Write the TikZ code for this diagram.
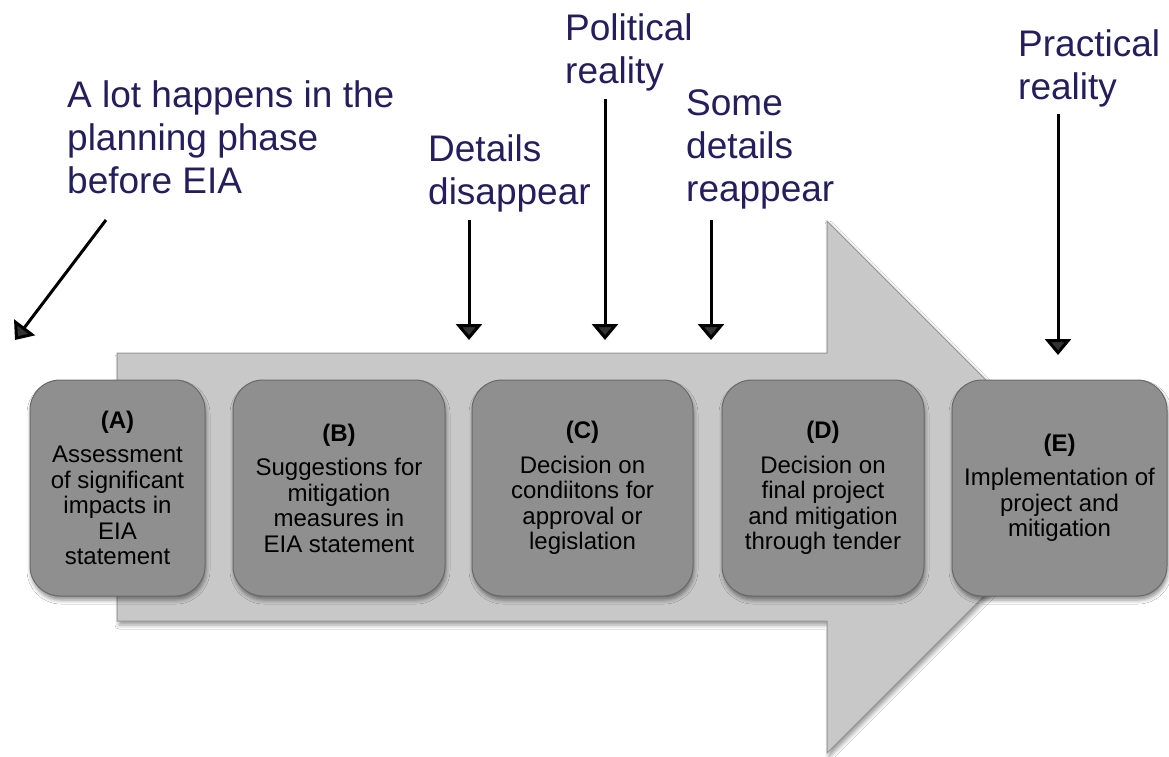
\documentclass[tikz,border=0pt]{standalone}
\usepackage{fontspec}
\setmainfont{Liberation Sans}
\usetikzlibrary{arrows.meta,shadows.blur}
\definecolor{navy}{RGB}{36,31,92}
\definecolor{boxfill}{RGB}{143,143,143}
\definecolor{boxline}{RGB}{105,105,105}
\definecolor{arrfill}{RGB}{200,200,200}
\definecolor{arrline}{RGB}{150,150,150}
\begin{document}
\begin{tikzpicture}[x=1pt,y=-1pt,
  stagebox/.style={draw=boxline, line width=1pt, fill=boxfill, rounded corners=30pt,
    align=center, inner sep=0pt, text=black,
    font=\fontsize{24}{25.5}\selectfont,
    blur shadow={shadow xshift=1pt, shadow yshift=-4pt, shadow blur radius=4pt, shadow opacity=45}},
  lbl/.style={anchor=north west, align=left, inner sep=0pt, text=navy,
    font=\fontsize{37}{43}\selectfont},
  pointer/.style={line width=3pt, -{Triangle[width=26pt,length=16pt]}}]
\useasboundingbox (0,0) rectangle (1169,757);
\fill[white] (0,0) rectangle (1169,757);
% big arrow
\path[draw=arrline, line width=1pt, fill=arrfill,
  blur shadow={shadow xshift=2pt, shadow yshift=-4pt, shadow blur radius=4pt, shadow opacity=40}]
  (117,353) -- (827,353) -- (827,221) -- (1093,487) -- (827,753) -- (827,621) -- (117,621) -- cycle;
% stage boxes
\node[stagebox, minimum width=175pt, minimum height=216pt] (A) at (117.5,488)
  {\textbf{(A)}\\[9pt]Assessment\\of significant\\impacts in\\EIA\\statement};
\node[stagebox, minimum width=212pt, minimum height=216pt] (B) at (339,488)
  {\textbf{(B)}\\[9pt]Suggestions for\\mitigation\\measures in\\EIA statement};
\node[stagebox, minimum width=221pt, minimum height=216pt] (C) at (582.5,488)
  {\textbf{(C)}\\[9pt]Decision on\\condiitons for\\approval or\\legislation};
\node[stagebox, minimum width=202pt, minimum height=216pt] (D) at (823,488)
  {\textbf{(D)}\\[9pt]Decision on\\final project\\and mitigation\\through tender};
\node[stagebox, minimum width=215pt, minimum height=216pt] (E) at (1059.5,488)
  {\textbf{(E)}\\[9pt]Implementation of\\project and\\mitigation};
% labels
\node[lbl] (L1) at (67,80) {A lot happens in the\\planning phase\\before EIA};
\node[lbl] (L2) at (428,134) {Details\\disappear};
\node[lbl] (L3) at (565,13) {Political\\reality};
\node[lbl] (L4) at (686,89) {Some\\details\\reappear};
\node[lbl] (L5) at (1018,29) {Practical\\reality};
% pointer coordinates
\coordinate (s1) at (106,220); \coordinate (t1) at (15,340);
\coordinate (s2) at (469,220); \coordinate (t2) at (469,340);
\coordinate (s3) at (605,99);  \coordinate (t3) at (605,340);
\coordinate (s4) at (711,220); \coordinate (t4) at (711,340);
\coordinate (s5) at (1058,114); \coordinate (t5) at (1058,355);
\draw[pointer] (s1) -- (t1);
\draw[pointer] (s2) -- (t2);
\draw[pointer] (s3) -- (t3);
\draw[pointer] (s4) -- (t4);
\draw[pointer] (s5) -- (t5);
\end{tikzpicture}
\end{document}
